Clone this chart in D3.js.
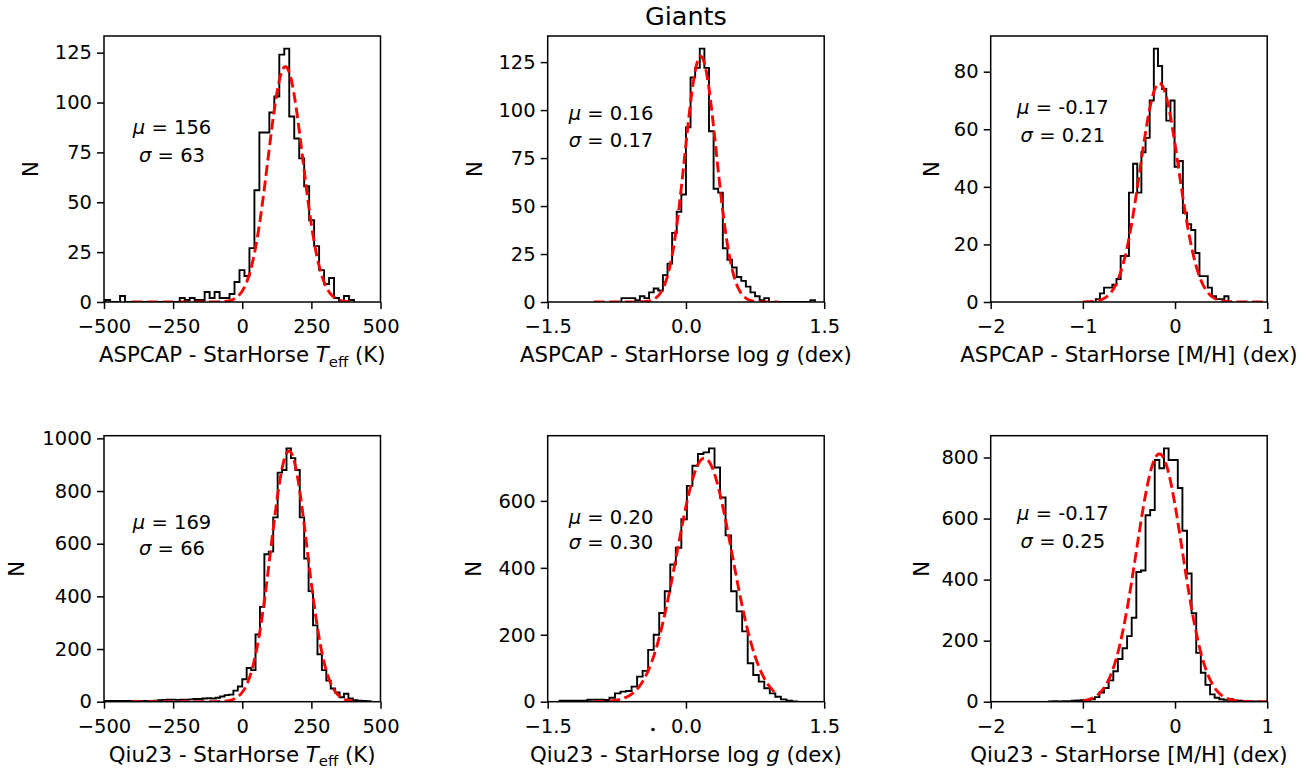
<!DOCTYPE html>
<html>
<head>
<meta charset="utf-8">
<script src="https://cdn.jsdelivr.net/npm/d3@7"></script>
<style>
  body { margin: 0; background: #fff; }
  text { font-family: "DejaVu Sans", sans-serif; fill: #000; }
</style>
</head>
<body>
<svg id="fig" width="1314" height="772"></svg>
<script>
// ---- data ----
const histStart = [-496, -0.70, -0.86, -496, -1.37, -1.37];
const histWidth = [18, 0.05, 0.045, 16, 0.06, 0.05];

const countsAspcapTeff = [1,0,0,3,0, 0,0,0,0,0, 0,0,0,0,0, 2,1,2,1,1, 5,2,5,2,2,
  4,10,16,13,27, 56,85,85,95,103, 124,127,93,82,72, 58,41,28,16,9, 12,2,0,3,1];
const countsAspcapLogg = [2,2,2,1,3, 2,5,7,6,14, 20,36,47,56,91, 117,122,132,122,89,
  59,57,28,22,18, 13,11,8,5,3, 1,2,0,0,0, 0,0,0,0,0, 0,1];
const countsAspcapMH = [1,3,5,5,6, 8,16,16,38,48, 38,52,57,70,88, 82,74,63,70,47,
  49,31,27,25,17, 9,9,5,2,1, 1,2,0];
const countsQiuTeff = [3,3,3,3,3,3,3,3,3,3,3,4, 6,7,8,8,7,8,8,9, 10,10,12,13,12,
  15,20,25,27,42, 58,85,128,120,255, 360,560,570,700,870, 880,962,925,880,700,
  544,420,290,180,120, 80,50,35,17,30, 12,6,4,3,2];
const countsQiuLogg = [3,3,3,3,3, 6,6,6,5,12, 25,30,32,45,75, 92,155,200,265,330,
  410,460,545,645,705, 740,745,757,700,610, 497,330,270,210,115, 80,60,40,25,15, 7,3,1];
const countsQiuMH = [1,2,1,2,2, 3,4,5,5,8, 15,30,45,70,100, 140,175,215,275,425,
  430,611,628,792,765, 830,792,792,700,560, 420,290,160,95,55, 24,13,8,6,8, 4,3,2,2,1,1];

const fitMu    = [156, 0.16, -0.17, 169, 0.20, -0.17];
const fitSigma = [63, 0.17, 0.21, 66, 0.30, 0.25];
const fitAmp   = [118, 128, 76, 952, 728, 812];
const fitRange = [[-400, 400], [-1, 1], [-1, 1], [-400, 400], [-1, 1], [-1, 1]];

const muLabels    = ["156", "0.16", "-0.17", "169", "0.20", "-0.17"];
const sigmaLabels = ["63", "0.17", "0.21", "66", "0.30", "0.25"];

const xDomains = [[-500, 500], [-1.5, 1.5], [-2, 1]];
const xTicks = [[-500, -250, 0, 250, 500], [-1.5, 0, 1.5], [-2, -1, 0, 1]];
const xFormats = ["d", ".1f", "d"];
const yTicks = [
  [0, 25, 50, 75, 100, 125], [0, 25, 50, 75, 100, 125], [0, 20, 40, 60, 80],
  [0, 200, 400, 600, 800, 1000], [0, 200, 400, 600], [0, 200, 400, 600, 800]
];
const surveys = ["ASPCAP", "Qiu23"];
const quantities = ["teff", "logg", "mh"];

const allCounts = [countsAspcapTeff, countsAspcapLogg, countsAspcapMH,
                   countsQiuTeff, countsQiuLogg, countsQiuMH];

// ---- layout ----
const svg = d3.select("#fig");
const W = 276.5, H = 266;
const lefts = [104, 547.7, 990.7];
const tops = [36, 435.7];
const FS = 19.5;      // ticks and annotations
const LFS = 21.3;     // axis labels
// annotation anchors in axes fractions: [x, yMu, ySigma]
const notePos = [[0.246, 0.342, 0.447], [0.229, 0.289, 0.391], [0.261, 0.267, 0.372],
                 [0.246, 0.323, 0.422], [0.229, 0.305, 0.398], [0.261, 0.291, 0.396]];
const nLabelX = [30, 474.5, 931, 16.7, 473, 921];

function xLabel(textSel, survey, q) {
  textSel.append("tspan").text(survey + " - StarHorse ");
  if (q === "teff") {
    textSel.append("tspan").attr("font-style", "italic").text("T");
    textSel.append("tspan").attr("font-size", LFS * 0.7).attr("dy", 4.5).text("eff");
    textSel.append("tspan").attr("dy", -4.5).text(" (K)");
  } else if (q === "logg") {
    textSel.append("tspan").text("log ");
    textSel.append("tspan").attr("font-style", "italic").text("g");
    textSel.append("tspan").text(" (dex)");
  } else {
    textSel.append("tspan").text("[M/H] (dex)");
  }
}

allCounts.forEach((counts, i) => {
  const col = i % 3, row = Math.floor(i / 3);
  const g = svg.append("g").attr("transform", `translate(${lefts[col]},${tops[row]})`);

  const x = d3.scaleLinear().domain(xDomains[col]).range([0, W]);
  const y = d3.scaleLinear().domain([0, d3.max(counts) * 1.05]).range([H, 0]);

  g.append("clipPath").attr("id", "clip" + i)
    .append("rect").attr("width", W).attr("height", H);
  const plot = g.append("g").attr("clip-path", `url(#clip${i})`);

  // step histogram outline
  const edges = d3.range(counts.length + 1).map(k => histStart[i] + k * histWidth[i]);
  const pts = [[edges[0], 0]];
  counts.forEach((c, k) => { pts.push([edges[k], c]); pts.push([edges[k + 1], c]); });
  pts.push([edges[edges.length - 1], 0]);
  plot.append("path")
    .attr("d", d3.line().x(d => x(d[0])).y(d => y(d[1]))(pts))
    .attr("fill", "none").attr("stroke", "#000").attr("stroke-width", 1.9)
    .attr("stroke-linejoin", "miter");

  // gaussian fit
  const [a, b] = fitRange[i];
  const xs = d3.range(0, 301).map(k => a + (b - a) * k / 300);
  const fit = xs.map(v => [v, fitAmp[i] * Math.exp(-0.5 * Math.pow((v - fitMu[i]) / fitSigma[i], 2))]);
  plot.append("path")
    .attr("d", d3.line().x(d => x(d[0])).y(d => y(d[1]))(fit))
    .attr("fill", "none").attr("stroke", "#ff0000").attr("stroke-width", 2.9)
    .attr("stroke-dasharray", "10.8,4.7");

  // axes
  const xa = g.append("g").attr("transform", `translate(0,${H})`)
    .call(d3.axisBottom(x).tickValues(xTicks[col]).tickFormat(d3.format(xFormats[col]))
      .tickSize(7).tickSizeOuter(0));
  xa.select(".domain").remove();
  xa.selectAll("line").attr("stroke-width", 1.5);
  xa.selectAll("text").attr("y", 31).attr("dy", null)
    .attr("font-size", FS).attr("font-family", "DejaVu Sans");

  const ya = g.append("g")
    .call(d3.axisLeft(y).tickValues(yTicks[i]).tickFormat(d3.format("d"))
      .tickSize(7).tickPadding(5).tickSizeOuter(0));
  ya.select(".domain").remove();
  ya.selectAll("line").attr("stroke-width", 1.5);
  ya.selectAll("text").attr("font-size", FS).attr("font-family", "DejaVu Sans");

  g.append("rect").attr("width", W).attr("height", H)
    .attr("fill", "none").attr("stroke", "#000").attr("stroke-width", 1.5);

  // annotation
  const [nx, ny1, ny2] = notePos[i];
  const t1 = g.append("text").attr("x", nx * W).attr("y", ny1 * H + 7)
    .attr("text-anchor", "middle").attr("font-size", FS);
  t1.append("tspan").attr("font-style", "italic").text("\u03bc");
  t1.append("tspan").text(" = " + muLabels[i]);
  const t2 = g.append("text").attr("x", nx * W).attr("y", ny2 * H + 7)
    .attr("text-anchor", "middle").attr("font-size", FS);
  t2.append("tspan").attr("font-style", "italic").text("\u03c3");
  t2.append("tspan").text(" = " + sigmaLabels[i]);

  // axis labels
  const xl = g.append("text").attr("x", W / 2).attr("y", H + 60)
    .attr("text-anchor", "middle").attr("font-size", LFS);
  xLabel(xl, surveys[row], quantities[col]);

  svg.append("text")
    .attr("transform", `translate(${nLabelX[i]},${tops[row] + H / 2}) rotate(-90)`)
    .attr("text-anchor", "middle").attr("dominant-baseline", "central")
    .attr("font-size", LFS).text("N");
});

// title over the middle column
svg.append("text").attr("x", lefts[1] + W / 2).attr("y", 25)
  .attr("text-anchor", "middle").attr("font-size", 25.5).text("Giants");

// stray dot under the lower middle panel
svg.append("circle").attr("cx", 653).attr("cy", 729.5).attr("r", 1.8).attr("fill", "#000");
</script>
</body>
</html>
